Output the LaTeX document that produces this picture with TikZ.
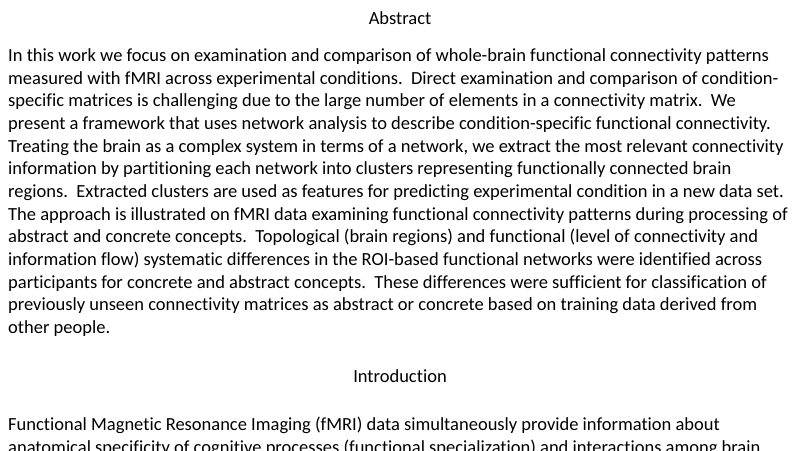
\documentclass[tikz,border=0pt]{standalone}
\usepackage{fontspec}
\setmainfont[Ligatures=NoCommon]{Carlito}
\begin{document}
\begin{tikzpicture}[x=1pt,y=1pt,
  txt/.style={anchor=base west,inner sep=0pt,font=\fontsize{18.5}{20}\selectfont},
  head/.style={anchor=base,inner sep=0pt,font=\fontsize{18.5}{20}\selectfont}]
\useasboundingbox[fill=white] (0,0) rectangle (800,450);
\node[head] (abs) at (400,{450-25}) {Abstract};
\def\L#1#2{\node[txt] (l#1) at (8,{450-61.5-22.67*(#1-1)}) {#2};}
\L{1}{In this work we focus on examination and comparison of whole-brain functional connectivity patterns}
\L{2}{measured with fMRI across experimental conditions.\ \ Direct examination and comparison of condition-}
\L{3}{specific matrices is challenging due to the large number of elements in a connectivity matrix.\ \ We}
\L{4}{present a framework that uses network analysis to describe condition-specific functional connectivity.}
\L{5}{Treating the brain as a complex system in terms of a network, we extract the most relevant connectivity}
\L{6}{information by partitioning each network into clusters representing functionally connected brain}
\L{7}{regions.\ \ Extracted clusters are used as features for predicting experimental condition in a new data set.}
\L{8}{The approach is illustrated on fMRI data examining functional connectivity patterns during processing of}
\L{9}{abstract and concrete concepts.\ \ Topological (brain regions) and functional (level of connectivity and}
\L{10}{information flow) systematic differences in the ROI-based functional networks were identified across}
\L{11}{participants for concrete and abstract concepts.\ \ These differences were sufficient for classification of}
\L{12}{previously unseen connectivity matrices as abstract or concrete based on training data derived from}
\L{13}{other people.}
\node[head] (intro) at (400,{450-382}) {Introduction};
\node[txt] (m1) at (8,{450-430.5}) {Functional Magnetic Resonance Imaging (fMRI) data simultaneously provide information about};
\node[txt] (m2) at (8,{450-453.5}) {anatomical specificity of cognitive processes (functional specialization) and interactions among brain};
\end{tikzpicture}
\end{document}
